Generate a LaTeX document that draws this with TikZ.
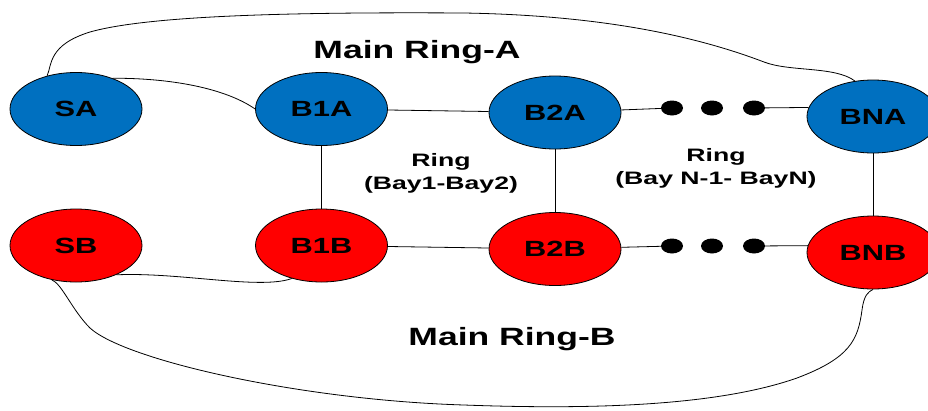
\documentclass[tikz,border=0pt]{standalone}
\usepackage{fontspec}
\setmainfont{Liberation Sans}
\usepackage{graphicx}
\usetikzlibrary{shapes.geometric}
\definecolor{nodeblue}{RGB}{0,112,192}
\definecolor{nodered}{RGB}{255,0,0}
\newcommand{\wide}[2]{\scalebox{#1}[1]{#2}}
\begin{document}
\begin{tikzpicture}[x=1pt,y=-1pt,
  bay/.style={ellipse, draw=black, line width=0.8pt, minimum width=132pt, minimum height=73pt, inner sep=0pt, font=\fontsize{22}{22}\selectfont\bfseries},
  bayA/.style={bay, fill=nodeblue},
  bayB/.style={bay, fill=nodered},
  gapdot/.style={ellipse, fill=black, minimum width=22pt, minimum height=15pt, inner sep=0pt},
  link/.style={draw=black, line width=0.8pt},
  lbl/.style={font=\fontsize{18}{23}\selectfont\bfseries, align=center, inner sep=0pt},
  title/.style={font=\fontsize{25}{25}\selectfont\bfseries, inner sep=0pt},
]
\useasboundingbox (0,0) rectangle (928,410);

% nodes
\node[bayA] (sa)  at (76,109)    {\wide{1.4}{SA}};
\node[bayA] (b1a) at (321.5,109) {\wide{1.4}{B1A}};
\node[bayA] (b2a) at (555,112.5) {\wide{1.4}{B2A}};
\node[bayA] (bna) at (873,116.5) {\wide{1.4}{BNA}};
\node[bayB] (sb)  at (76,245.5)  {\wide{1.4}{SB}};
\node[bayB] (b1b) at (321.5,245.5) {\wide{1.4}{B1B}};
\node[bayB] (b2b) at (555,249)   {\wide{1.4}{B2B}};
\node[bayB] (bnb) at (873,252.5) {\wide{1.4}{BNB}};

\node[gapdot] (da1) at (672,108) {};
\node[gapdot] (da2) at (712,108) {};
\node[gapdot] (da3) at (754,108) {};
\node[gapdot] (db1) at (672,246) {};
\node[gapdot] (db2) at (712,246) {};
\node[gapdot] (db3) at (754,246) {};

% labels
\node[title] (ta) at (417,52) {\wide{1.42}{Main Ring-A}};
\node[title] (tb) at (512,339) {\wide{1.42}{Main Ring-B}};
\node[lbl] (r12) at (441,173.5) {\wide{1.48}{Ring}\\\wide{1.48}{(Bay1-Bay2)}};
\node[lbl] (rn) at (716,168.5) {\wide{1.48}{Ring}\\\wide{1.48}{(Bay N-1- BayN)}};

% straight links
\draw[link] (b1a) -- (b2a);
\draw[link] (b2a) -- (da1);
\draw[link] (da3) -- (bna.172);
\draw[link] (b1b) -- (b2b);
\draw[link] (b2b) -- (db1);
\draw[link] (db3) -- (bnb.174);
\draw[link] (b1a) -- (b1b);
\draw[link] (b2a) -- (b2b);
\draw[link] (bna) -- (bnb);

% curved links
\draw[link] (sa.40) .. controls (170,78) and (225,88) .. (b1a.west);
\draw[link] (sb.-36) .. controls (180,272) and (260,290) .. (b1b.-132);
\draw[link] (sa.131) .. controls (52,65) and (48,45) .. (90,32)
  .. controls (150,15) and (300,12) .. (464,13)
  .. controls (580,15) and (680,30) .. (764,62)
  .. controls (790,72) and (835,66) .. (bna.117);
\draw[link] (sb.-125) .. controls (62,284) and (72,310) .. (90,328)
  .. controls (125,360) and (300,400) .. (464,405)
  .. controls (600,410) and (720,405) .. (797,378)
  .. controls (850,358) and (858,340) .. (862,310)
  .. controls (864,295) and (868,292) .. (bnb.south);
\end{tikzpicture}
\end{document}
